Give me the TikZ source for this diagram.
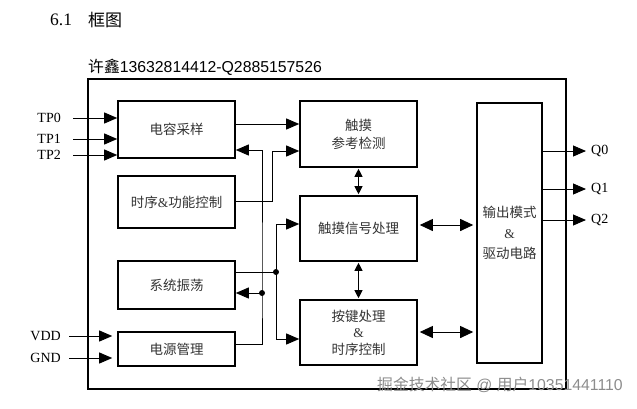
\documentclass[tikz,border=0pt]{standalone}
\usepackage{fontspec}
\setmainfont{Liberation Serif}
\setsansfont{Liberation Sans}
\newfontfamily\cjk{Noto Sans CJK SC}
\usetikzlibrary{arrows.meta,calc}
\begin{document}
\begin{tikzpicture}[x=1pt,y=-1pt,
  blk/.style={draw,line width=1.6pt,minimum width=117pt,text=black!80,font=\cjk\fontsize{13.5}{18}\selectfont,align=center,inner sep=0pt},
  ln/.style={line width=0.9pt},
  arr/.style={ln,-{Triangle[length=13pt,width=11pt]}},
  darr/.style={ln,{Triangle[length=13pt,width=12pt]}-{Triangle[length=13pt,width=12pt]},shorten <=2pt,shorten >=3pt},
  varr/.style={ln,{Triangle[length=8pt,width=8pt]}-{Triangle[length=8pt,width=8pt]},shorten <=1pt,shorten >=1pt},
  lab/.style={font=\fontsize{14}{16}\selectfont,inner sep=0pt},
  jdot/.style={circle,fill,inner sep=0pt,minimum size=6pt}]
\useasboundingbox (0,0) rectangle (637,408);

% title and header
\node[anchor=west,inner sep=0pt,font=\fontsize{17.5}{20}\selectfont] (secnum) at (50,20) {6.1};
\node[anchor=west,inner sep=0pt,font=\cjk\fontsize{17}{20}\selectfont] (title) at (88,20) {框图};
\node[anchor=west,inner sep=0pt,font=\fontsize{15.8}{18}\selectfont] (hdr) at (88,67) {{\cjk 许鑫}{\sffamily 13632814412-Q2885157526}};

% frame
\node[draw,line width=1.6pt,minimum width=478pt,minimum height=310pt,inner sep=0pt] (frame) at (327,234) {};

% blocks
\node[blk,minimum height=57pt] (cs) at (176.5,129.5) {电容采样};
\node[blk,minimum height=52pt] (tf) at (176.5,202) {时序{\rmfamily\&}功能控制};
\node[blk,minimum height=48pt] (osc) at (176.5,285) {系统振荡};
\node[blk,minimum height=34pt] (pwr) at (176.5,349) {电源管理};
\node[blk,minimum height=66pt] (ref) at (358.5,134) {触摸\\参考检测};
\node[blk,minimum height=65pt] (sig) at (358.5,228.5) {触摸信号处理};
\node[blk,minimum height=65pt,font=\cjk\fontsize{13.5}{16.5}\selectfont] (key) at (358.5,332.5) {按键处理\\{\rmfamily\&}\\时序控制};
\node[blk,minimum width=65pt,minimum height=260pt,font=\cjk\fontsize{13.5}{20.5}\selectfont] (out) at (509.5,233) {输出模式\\{\rmfamily\&}\\驱动电路};

% input labels
\node[lab,anchor=east] (tp0) at (61,118) {TP0};
\node[lab,anchor=east] (tp1) at (61,139) {TP1};
\node[lab,anchor=east] (tp2) at (61,155) {TP2};
\node[lab,anchor=east] (vdd) at (61,336) {VDD};
\node[lab,anchor=east] (gnd) at (61,358) {GND};
\node[lab,anchor=west] (q0) at (591,151) {Q0};
\node[lab,anchor=west] (q1) at (591,189) {Q1};
\node[lab,anchor=west] (q2) at (591,220) {Q2};

\draw[arr] ([xshift=12pt]tp0.east) -- (cs.west |- tp0);
\draw[arr] ([xshift=12pt]tp1.east) -- (cs.west |- tp1);
\draw[arr] ([xshift=12pt]tp2.east) -- (cs.west |- tp2);
\draw[arr,shorten >=5pt] ([xshift=8pt]vdd.east) -- (pwr.west |- vdd);
\draw[arr,shorten >=5pt] ([xshift=8pt]gnd.east) -- (pwr.west |- gnd);
\draw[arr,shorten >=5pt] (out.east |- q0) -- (q0.west);
\draw[arr,shorten >=5pt] (out.east |- q1) -- (q1.west);
\draw[arr,shorten >=5pt] (out.east |- q2) -- (q2.west);

% junctions
\coordinate (jp) at (262,293);
\coordinate (jo) at (276,272);

% internal connectors
\draw[arr] (cs.east |- 0,124) -- (ref.west |- 0,124);
\draw[arr] (pwr.east |- 0,344) -| (jp) |- (cs.east |- 0,150);
\draw[arr] (jp) -- (osc.east |- jp);
\draw[arr] (tf.east |- 0,201) -| (272,151) -- (ref.west |- 0,151);
\draw[ln] (osc.east |- jo) -- (jo);
\draw[arr] (jo) |- (sig.west |- 0,224);
\draw[arr] (jo) |- (key.west |- 0,339);
\node[jdot] at (jp) {};
\node[jdot] at (jo) {};

\draw[varr] (ref.south) -- (sig.north);
\draw[varr] (sig.south) -- (key.north);
\draw[darr] (sig.east |- 0,225) -- (out.west |- 0,225);
\draw[darr] (key.east |- 0,332) -- (out.west |- 0,332);

% watermark
\node[anchor=west,inner sep=0pt,text=black!45,font=\fontsize{15.8}{18}\selectfont] (wm) at (377,385) {{\cjk 掘金技术社区}{\sffamily\ @ }{\cjk 用户}{\sffamily 10351441110}};
\end{tikzpicture}
\end{document}
